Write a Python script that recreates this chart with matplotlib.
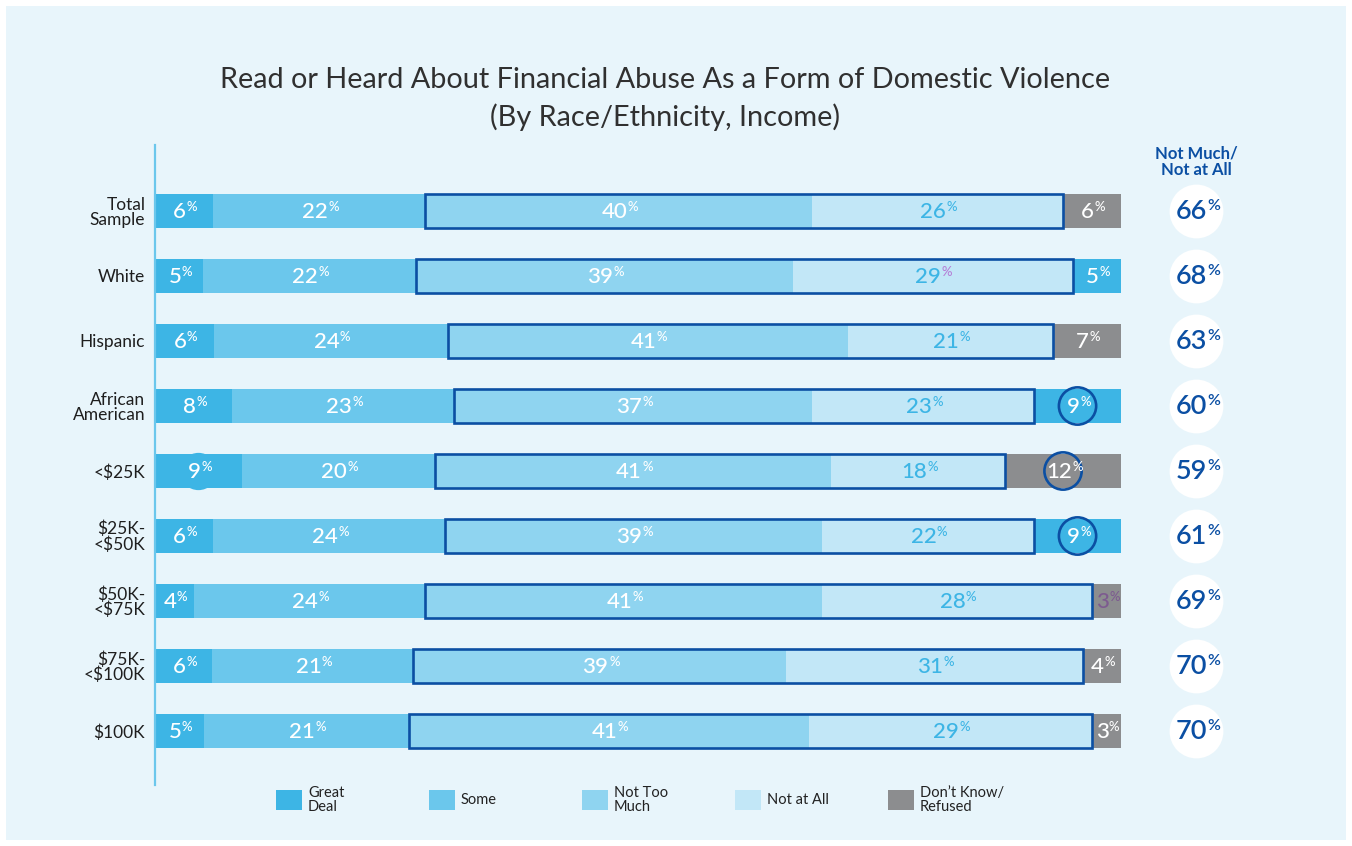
import matplotlib.pyplot as plt
import numpy as np
from matplotlib.patches import Rectangle

plt.rcParams['font.family'] = ['Lato', 'DejaVu Sans']

# Data ------------------------------------------------------------------------

categories = ['Total\nSample', 'White', 'Hispanic', 'African\nAmerican', '<$25K',
              '$25K-\n<$50K', '$50K-\n<$75K', '$75K-\n<$100K', '$100K']
great_deal = [6, 5, 6, 8, 9, 6, 4, 6, 5]
some = [22, 22, 24, 23, 20, 24, 24, 21, 21]
not_too_much = [40, 39, 41, 37, 41, 39, 41, 39, 41]
not_at_all = [26, 29, 21, 23, 18, 22, 28, 31, 29]
dont_know = [6, 5, 7, 9, 12, 9, 3, 4, 3]
not_much_total = [66, 68, 63, 60, 59, 61, 69, 70, 70]
series_names = ['Great\nDeal', 'Some', 'Not Too\nMuch', 'Not at All', 'Don\u2019t Know/\nRefused']

TITLE = 'Read or Heard About Financial Abuse As a Form of Domestic Violence\n(By Race/Ethnicity, Income)'

# Styles ----------------------------------------------------------------------

W, H = 1352, 846
BG = '#e8f5fb'
OUTLINE = '#0b4fa3'
C_GREAT = '#3db5e5'
C_SOME = '#6bc7ec'
C_NTM = '#8fd4f0'
C_NAA = '#c2e7f7'
C_DK = '#8c8d8f'
seg_colors = [C_GREAT, C_SOME, C_NTM, C_NAA, C_DK]
label_colors = ['white', 'white', 'white', C_GREAT, 'white']
# rows where the last segment is drawn in the "great deal" blue in the original
last_blue = [1, 3, 5]
# rings drawn around some labels: (row, segment, filled)
rings = [(3, 4, False), (4, 0, True), (4, 4, False), (5, 4, False)]
CIRCLE_X = 107.8


def fx(px):
    return px / W


def fy(py):
    return 1 - py / H


# Main ------------------------------------------------------------------------

fig = plt.figure(figsize=(W / 100, H / 100), dpi=100, facecolor='white')
fig.patches.append(Rectangle((fx(6), fy(840)), fx(1340), 834 / H,
                             transform=fig.transFigure, facecolor=BG,
                             edgecolor='none', zorder=-10))

ax = fig.add_axes([fx(155), fy(785), fx(966), 640 / H])
ax.set_facecolor('none')

data = np.array([great_deal, some, not_too_much, not_at_all, dont_know], dtype=float)
shares = data / data.sum(axis=0) * 100
lefts = np.vstack([np.zeros(data.shape[1]), np.cumsum(shares, axis=0)[:-1]])
y = np.arange(len(categories))

for k in range(5):
    cols = [seg_colors[k]] * len(y)
    if k == 4:
        cols = [C_GREAT if i in last_blue else C_DK for i in y]
    ax.barh(y, shares[k], left=lefts[k], height=0.52, color=cols,
            linewidth=0, zorder=2)

# outline around "not too much" + "not at all"
ax.barh(y, shares[2] + shares[3], left=lefts[2], height=0.52, fill=False,
        edgecolor=OUTLINE, linewidth=1.9, zorder=3)

for row, seg, filled in rings:
    cx = lefts[seg][row] + shares[seg][row] / 2
    if filled:
        ax.scatter([cx], [row], s=720, color=C_GREAT, linewidth=0, zorder=3)
    else:
        ax.scatter([cx], [row], s=720, facecolor='none', edgecolor=OUTLINE,
                   linewidth=1.9, zorder=4)


def pct_label(x, yy, value, size, color, pct_size, pct_color=None, weight='medium'):
    t = ax.annotate(str(value), (x, yy), xytext=(-pct_size * 0.32, -0.5),
                    textcoords='offset points', ha='center', va='center',
                    fontsize=size, color=color, weight=weight, zorder=5,
                    annotation_clip=False)
    ax.annotate('%', (1.02, 0.74), xycoords=t, ha='left', va='center',
                fontsize=pct_size, color=pct_color or color, weight=weight,
                zorder=5, annotation_clip=False)


for i in y:
    for k in range(5):
        cx = lefts[k][i] + shares[k][i] / 2
        col = label_colors[k]
        pcol = None
        if i == 1 and k == 3:
            pcol = '#b57ed6'
        if i == 6 and k == 4:
            col = '#7d5b8f'
        pct_label(cx, i, int(data[k][i]), 16, col, 9.5, pcol)

# right-hand column
ax.scatter(np.full(len(y), CIRCLE_X), y, s=1500, color='white', linewidth=0,
           clip_on=False, zorder=4)
for i in y:
    pct_label(CIRCLE_X, i, not_much_total[i], 19.5, OUTLINE, 11.5, weight='semibold')
ax.text(CIRCLE_X, -0.76, 'Not Much/\nNot at All', ha='center', va='center',
        fontsize=12, weight='bold', color=OUTLINE, linespacing=1.05,
        clip_on=False)

ax.set_xlim(0, 100)
ax.set_ylim(574 / 65, -66 / 65)
for s in ['top', 'right', 'bottom']:
    ax.spines[s].set_visible(False)
ax.spines['left'].set_color(C_SOME)
ax.spines['left'].set_linewidth(1.6)
ax.set_xticks([])
ax.set_yticks(y)
ax.set_yticklabels(categories, fontsize=12.5, color='#1e1e1e')
ax.tick_params(axis='y', length=0, pad=7)
for lab in ax.get_yticklabels():
    lab.set_linespacing(0.95)

fig.text(fx(665), fy(99), TITLE, ha='center', va='center', fontsize=20.8,
         weight='normal', color='#303030', linespacing=1.45)

# legend
for k, name in enumerate(series_names):
    x0 = 276 + 153 * k
    fig.patches.append(Rectangle((fx(x0), fy(810)), fx(26), 20 / H,
                                 transform=fig.transFigure,
                                 facecolor=seg_colors[k], edgecolor='none'))
    fig.text(fx(x0 + 32), fy(800), name, ha='left', va='center', fontsize=10.5,
             color='#222222', linespacing=0.95)

fig.savefig('out.png', dpi=100, facecolor='white')
